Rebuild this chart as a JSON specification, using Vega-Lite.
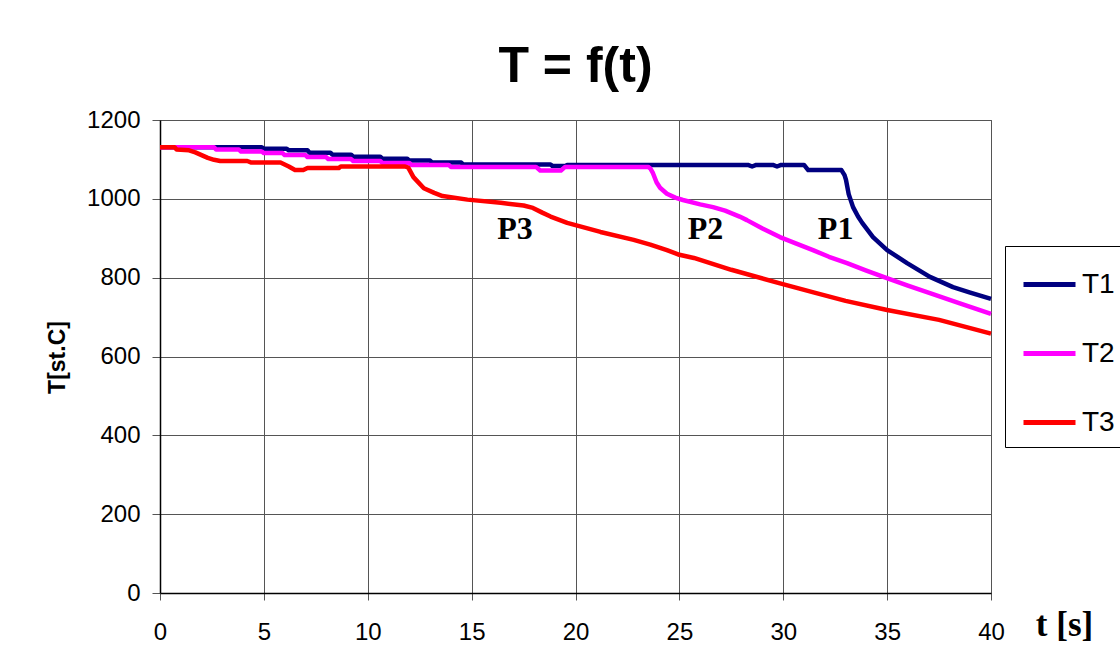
{
  "$schema": "https://vega.github.io/schema/vega-lite/v6.json",
  "width": 831,
  "height": 473,
  "autosize": {"type": "none"},
  "padding": {"left": 160, "top": 120, "right": 129, "bottom": 66},
  "background": "white",
  "title": {"text": "T = f(t)", "fontSize": 50, "font": "Liberation Sans", "fontWeight": "bold", "color": "black", "anchor": "middle", "frame": "group", "offset": 16},
  "config": {
    "font": "Liberation Sans",
    "view": {"stroke": "#555", "strokeWidth": 1},
    "axis": {"labelFont": "Liberation Sans", "labelFontSize": 24, "labelColor": "black", "tickColor": "#555", "domainColor": "black", "domainWidth": 1.5, "gridColor": "#555", "gridWidth": 1, "gridOpacity": 1, "labelOverlap": false, "labelFlush": false, "labelBound": false, "format": "d"}
  },
  "datasets": {
    "curves": [
      {"s": "T1", "t": 0, "T": 1131}, {"s": "T1", "t": 4.9, "T": 1131}, {"s": "T1", "t": 5.0, "T": 1127}, {"s": "T1", "t": 6.1, "T": 1127}, {"s": "T1", "t": 6.2, "T": 1123}, {"s": "T1", "t": 7.1, "T": 1123}, {"s": "T1", "t": 7.2, "T": 1117}, {"s": "T1", "t": 8.2, "T": 1117}, {"s": "T1", "t": 8.3, "T": 1112}, {"s": "T1", "t": 9.2, "T": 1112}, {"s": "T1", "t": 9.3, "T": 1107}, {"s": "T1", "t": 10.6, "T": 1107}, {"s": "T1", "t": 10.7, "T": 1102}, {"s": "T1", "t": 11.9, "T": 1102}, {"s": "T1", "t": 12.0, "T": 1097}, {"s": "T1", "t": 13.0, "T": 1097}, {"s": "T1", "t": 13.1, "T": 1092}, {"s": "T1", "t": 14.5, "T": 1092}, {"s": "T1", "t": 14.6, "T": 1087}, {"s": "T1", "t": 18.8, "T": 1087}, {"s": "T1", "t": 18.9, "T": 1083}, {"s": "T1", "t": 19.5, "T": 1083}, {"s": "T1", "t": 19.6, "T": 1086}, {"s": "T1", "t": 28.3, "T": 1086}, {"s": "T1", "t": 28.5, "T": 1082}, {"s": "T1", "t": 28.7, "T": 1086}, {"s": "T1", "t": 29.5, "T": 1086}, {"s": "T1", "t": 29.7, "T": 1082}, {"s": "T1", "t": 29.9, "T": 1086}, {"s": "T1", "t": 31.0, "T": 1086}, {"s": "T1", "t": 31.2, "T": 1073}, {"s": "T1", "t": 32.8, "T": 1073}, {"s": "T1", "t": 32.95, "T": 1060}, {"s": "T1", "t": 33.02, "T": 1048}, {"s": "T1", "t": 33.15, "T": 1012}, {"s": "T1", "t": 33.36, "T": 979}, {"s": "T1", "t": 33.6, "T": 955}, {"s": "T1", "t": 33.8, "T": 939}, {"s": "T1", "t": 34.32, "T": 903}, {"s": "T1", "t": 35.0, "T": 870}, {"s": "T1", "t": 35.96, "T": 837}, {"s": "T1", "t": 37.06, "T": 802}, {"s": "T1", "t": 38.17, "T": 776}, {"s": "T1", "t": 39.0, "T": 762}, {"s": "T1", "t": 40, "T": 746},
      {"s": "T2", "t": 0, "T": 1131}, {"s": "T2", "t": 2.6, "T": 1131}, {"s": "T2", "t": 2.7, "T": 1125}, {"s": "T2", "t": 3.8, "T": 1125}, {"s": "T2", "t": 3.9, "T": 1120}, {"s": "T2", "t": 4.9, "T": 1120}, {"s": "T2", "t": 5.0, "T": 1116}, {"s": "T2", "t": 5.9, "T": 1116}, {"s": "T2", "t": 6.0, "T": 1111}, {"s": "T2", "t": 7.0, "T": 1111}, {"s": "T2", "t": 7.1, "T": 1106}, {"s": "T2", "t": 8.0, "T": 1106}, {"s": "T2", "t": 8.1, "T": 1101}, {"s": "T2", "t": 9.2, "T": 1101}, {"s": "T2", "t": 9.3, "T": 1096}, {"s": "T2", "t": 10.6, "T": 1096}, {"s": "T2", "t": 10.7, "T": 1091}, {"s": "T2", "t": 12.0, "T": 1091}, {"s": "T2", "t": 12.1, "T": 1086}, {"s": "T2", "t": 13.9, "T": 1086}, {"s": "T2", "t": 14.0, "T": 1081}, {"s": "T2", "t": 18.1, "T": 1081}, {"s": "T2", "t": 18.3, "T": 1072}, {"s": "T2", "t": 19.3, "T": 1072}, {"s": "T2", "t": 19.5, "T": 1081}, {"s": "T2", "t": 23.5, "T": 1081}, {"s": "T2", "t": 23.6, "T": 1077}, {"s": "T2", "t": 23.73, "T": 1065}, {"s": "T2", "t": 23.9, "T": 1042}, {"s": "T2", "t": 24.07, "T": 1028}, {"s": "T2", "t": 24.4, "T": 1013}, {"s": "T2", "t": 24.8, "T": 1003}, {"s": "T2", "t": 25.17, "T": 997}, {"s": "T2", "t": 26.0, "T": 986}, {"s": "T2", "t": 26.62, "T": 979}, {"s": "T2", "t": 27.2, "T": 970}, {"s": "T2", "t": 27.58, "T": 962}, {"s": "T2", "t": 27.9, "T": 955}, {"s": "T2", "t": 28.25, "T": 946}, {"s": "T2", "t": 29.0, "T": 925}, {"s": "T2", "t": 29.84, "T": 903}, {"s": "T2", "t": 30.6, "T": 887}, {"s": "T2", "t": 31.43, "T": 870}, {"s": "T2", "t": 32.2, "T": 853}, {"s": "T2", "t": 33.07, "T": 837}, {"s": "T2", "t": 34.0, "T": 818}, {"s": "T2", "t": 34.99, "T": 799}, {"s": "T2", "t": 36.0, "T": 780}, {"s": "T2", "t": 37.06, "T": 761}, {"s": "T2", "t": 38.5, "T": 735}, {"s": "T2", "t": 40, "T": 708},
      {"s": "T3", "t": 0, "T": 1131}, {"s": "T3", "t": 0.7, "T": 1131}, {"s": "T3", "t": 0.8, "T": 1125}, {"s": "T3", "t": 1.4, "T": 1123}, {"s": "T3", "t": 1.7, "T": 1118}, {"s": "T3", "t": 2.3, "T": 1104}, {"s": "T3", "t": 2.6, "T": 1099}, {"s": "T3", "t": 2.9, "T": 1096}, {"s": "T3", "t": 4.2, "T": 1096}, {"s": "T3", "t": 4.4, "T": 1092}, {"s": "T3", "t": 5.8, "T": 1092}, {"s": "T3", "t": 6.2, "T": 1082}, {"s": "T3", "t": 6.5, "T": 1073}, {"s": "T3", "t": 6.9, "T": 1073}, {"s": "T3", "t": 7.1, "T": 1078}, {"s": "T3", "t": 8.6, "T": 1078}, {"s": "T3", "t": 8.7, "T": 1082}, {"s": "T3", "t": 11.8, "T": 1082}, {"s": "T3", "t": 11.95, "T": 1079}, {"s": "T3", "t": 12.2, "T": 1055}, {"s": "T3", "t": 12.7, "T": 1027}, {"s": "T3", "t": 13.2, "T": 1015}, {"s": "T3", "t": 13.6, "T": 1007}, {"s": "T3", "t": 14.8, "T": 998}, {"s": "T3", "t": 16.4, "T": 990}, {"s": "T3", "t": 17.5, "T": 983}, {"s": "T3", "t": 17.95, "T": 977}, {"s": "T3", "t": 18.4, "T": 965}, {"s": "T3", "t": 18.8, "T": 955}, {"s": "T3", "t": 19.6, "T": 939}, {"s": "T3", "t": 21.2, "T": 916}, {"s": "T3", "t": 22.8, "T": 896}, {"s": "T3", "t": 23.6, "T": 884}, {"s": "T3", "t": 24.4, "T": 870}, {"s": "T3", "t": 25.0, "T": 858}, {"s": "T3", "t": 25.7, "T": 850}, {"s": "T3", "t": 27.5, "T": 820}, {"s": "T3", "t": 29.8, "T": 786}, {"s": "T3", "t": 31.5, "T": 762}, {"s": "T3", "t": 33.0, "T": 741}, {"s": "T3", "t": 35.0, "T": 718}, {"s": "T3", "t": 37.5, "T": 693}, {"s": "T3", "t": 40, "T": 658}
    ],
    "labels": [
      {"label": "P3", "t": 17.09, "T": 898},
      {"label": "P2", "t": 26.26, "T": 898},
      {"label": "P1", "t": 32.52, "T": 898}
    ]
  },
  "layer": [
    {
      "data": {"name": "curves"},
      "mark": {"type": "line", "strokeWidth": 4.5, "strokeJoin": "round", "clip": false},
      "encoding": {
        "x": {"field": "t", "type": "quantitative", "scale": {"domain": [0, 40], "nice": false, "zero": false},
          "axis": {"values": [0, 5, 10, 15, 20, 25, 30, 35, 40], "grid": true, "tickSize": 7, "labelPadding": 20,
            "title": "t [s]", "titleFont": "Liberation Serif", "titleFontSize": 35, "titleFontWeight": "bold", "titleColor": "black",
            "titleX": 904, "titleY": 42, "titleAlign": "center", "titleBaseline": "alphabetic"}},
        "y": {"field": "T", "type": "quantitative", "scale": {"domain": [0, 1200], "nice": false},
          "axis": {"values": [0, 200, 400, 600, 800, 1000, 1200], "grid": true, "tickSize": 8, "labelPadding": 12,
            "title": "T[st.C]", "titleFont": "Liberation Sans", "titleFontSize": 23, "titleFontWeight": "bold", "titleColor": "black",
            "titleAngle": -90, "titleX": -103, "titleY": 237, "titleAlign": "center", "titleBaseline": "middle"}},
        "color": {"field": "s", "type": "nominal",
          "scale": {"domain": ["T1", "T2", "T3"], "range": ["#000080", "#FF00FF", "#FF0000"]},
          "legend": {"orient": "none", "legendX": 845, "legendY": 126, "title": null, "symbolType": "stroke", "symbolSize": 2704, "symbolStrokeWidth": 5,
            "labelFontSize": 28, "labelFont": "Liberation Sans", "labelColor": "black", "padding": 10, "rowPadding": 26,
            "strokeColor": "black", "fillColor": "white", "symbolOffset": 6, "labelOffset": 4}}
      }
    },
    {
      "data": {"name": "labels"},
      "mark": {"type": "text", "font": "Liberation Serif", "fontSize": 32, "fontWeight": "bold", "color": "black", "align": "center", "baseline": "alphabetic"},
      "encoding": {
        "x": {"field": "t", "type": "quantitative"},
        "y": {"field": "T", "type": "quantitative"},
        "text": {"field": "label"}
      }
    }
  ]
}
